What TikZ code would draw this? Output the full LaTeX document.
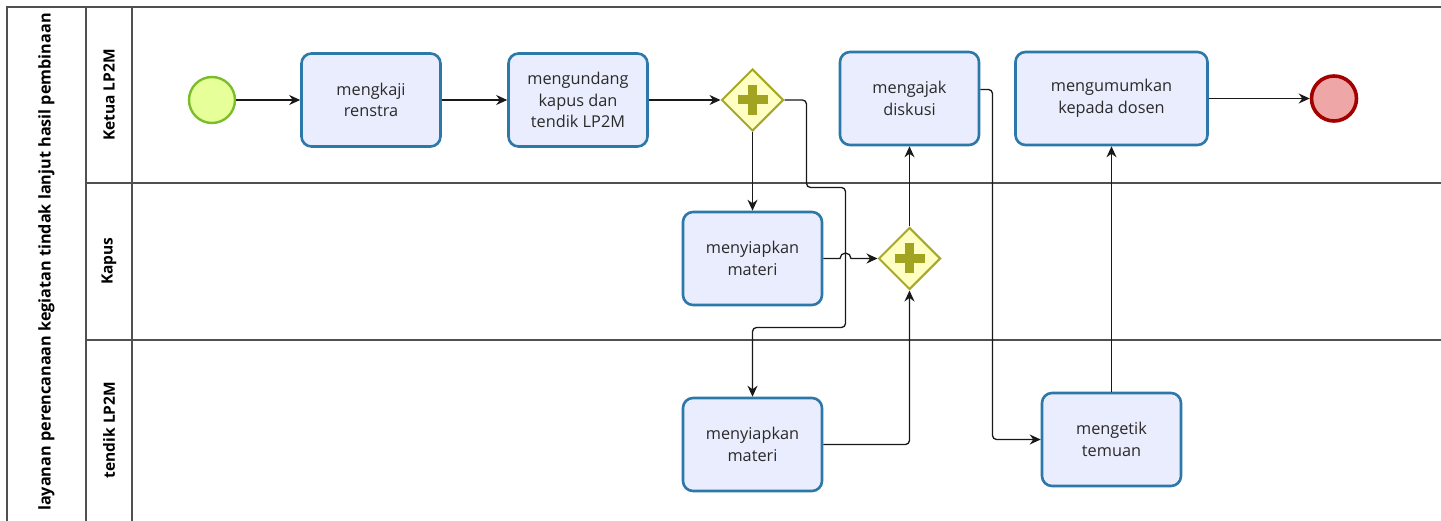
\documentclass[tikz,border=0pt]{standalone}
\usepackage{fontspec}
\setmainfont{Open Sans}
\usetikzlibrary{arrows.meta,shapes.geometric}
\definecolor{taskfill}{HTML}{E9EDFD}
\definecolor{taskdraw}{HTML}{2C78A8}
\definecolor{gwfill}{HTML}{FFFFC4}
\definecolor{gwdraw}{HTML}{A8A828}
\definecolor{gwplus}{HTML}{A3A322}
\definecolor{startfill}{HTML}{E6FF98}
\definecolor{startdraw}{HTML}{7CBD2A}
\definecolor{endfill}{HTML}{EEA6A6}
\definecolor{enddraw}{HTML}{A30000}
\definecolor{lanecol}{HTML}{505050}
\definecolor{txt}{HTML}{2A2A2A}
\begin{document}
\begin{tikzpicture}[x=1pt,y=-1pt,
  task/.style={draw=taskdraw, fill=taskfill, line width=2.6pt, rounded corners=10pt,
    minimum width=139pt, minimum height=93pt, align=center, inner sep=2pt,
    font=\fontsize{16.3}{21.5}\selectfont, text=txt},
  gw/.style={diamond, draw=gwdraw, fill=gwfill, line width=2pt,
    minimum width=62pt, minimum height=62pt, inner sep=0pt},
  startev/.style={circle, draw=startdraw, fill=startfill, line width=2.4pt,
    minimum size=46pt, inner sep=0pt},
  endev/.style={circle, draw=enddraw, fill=endfill, line width=3.6pt,
    minimum size=45pt, inner sep=0pt},
  flow/.style={line width=1.3pt, draw=black!90, -{Stealth[length=11pt,width=10pt]}},
  lane/.style={draw=lanecol, line width=1.2pt},
  lanelabel/.style={rotate=90, font=\bfseries\fontsize{15.5}{18}\selectfont, text=black},
  plus/.style={fill=gwplus}
]
\useasboundingbox (0,0) rectangle (1441,521);
\fill[white] (0,0) rectangle (1441,521);

% pool and lanes
\draw[lane] (1441,7) -- (7,7) -- (7,521);
\draw[lane] (86,7) -- (86,521);
\draw[lane] (132,7) -- (132,521);
\draw[lane] (86,183) -- (1441,183);
\draw[lane] (86,340) -- (1441,340);

\node[rotate=90, font=\bfseries\fontsize{16.2}{20}\selectfont] (pool) at (46.5,262) {layanan perencanaan kegiatan tindak lanjut hasil pembinaan};
\node[lanelabel] (l1) at (109,95) {Ketua LP2M};
\node[lanelabel] (l2) at (109,261) {Kapus};
\node[lanelabel] (l3) at (109,430) {tendik LP2M};

% events and tasks
\node[startev] (start) at (212,100) {};
\node[task] (t1) at (371,100) {mengkaji\\renstra};
\node[task] (t2) at (578,100) {mengundang\\kapus dan\\tendik LP2M};
\node[gw] (gw1) at (752.5,100) {};
\fill[plus] ([xshift=-15pt,yshift=-4.5pt]gw1.center) rectangle ([xshift=15pt,yshift=4.5pt]gw1.center);
\fill[plus] ([xshift=-4.5pt,yshift=-15pt]gw1.center) rectangle ([xshift=4.5pt,yshift=15pt]gw1.center);
\node[task] (t3) at (909.5,98.5) {mengajak\\diskusi};
\node[task, minimum width=192pt] (t4) at (1111.5,98.5) {mengumumkan\\kepada dosen};
\node[endev] (end) at (1334,98.5) {};

\node[task] (k1) at (752.5,258.5) {menyiapkan\\materi};
\node[gw] (gw2) at (909.5,258.5) {};
\fill[plus] ([xshift=-15pt,yshift=-4.5pt]gw2.center) rectangle ([xshift=15pt,yshift=4.5pt]gw2.center);
\fill[plus] ([xshift=-4.5pt,yshift=-15pt]gw2.center) rectangle ([xshift=4.5pt,yshift=15pt]gw2.center);

\node[task] (d1) at (752.5,444.5) {menyiapkan\\materi};
\node[task] (mt) at (1111.5,439.5) {mengetik\\temuan};

% flows
\draw[flow] (start) -- (t1);
\draw[flow] (t1) -- (t2);
\draw[flow] (t2.east) -- (gw1.west);
\draw[flow] (gw1.south) -- (k1.north);
\draw[flow, rounded corners=4pt] (gw1.east) -- (806.5,100) -- (806.5,187.5) -- (845.5,187.5) -- (845.5,327.5) -- (752.5,327.5) -- (d1.north);
\draw[flow] (k1.east) -- (840,258.5) arc (180:360:5.5) -- (gw2.west);
\draw[flow, rounded corners=4pt] (d1.east) -| (gw2.south);
\draw[flow] (gw2.north) -- (t3.south);
\draw[flow, rounded corners=4pt] ([yshift=9pt]t3.east) -- (992.5,89.5) |- (mt.west);
\draw[flow] (mt.north) -- (t4.south);
\draw[flow] (t4.east) -- (end.west);
\end{tikzpicture}
\end{document}
